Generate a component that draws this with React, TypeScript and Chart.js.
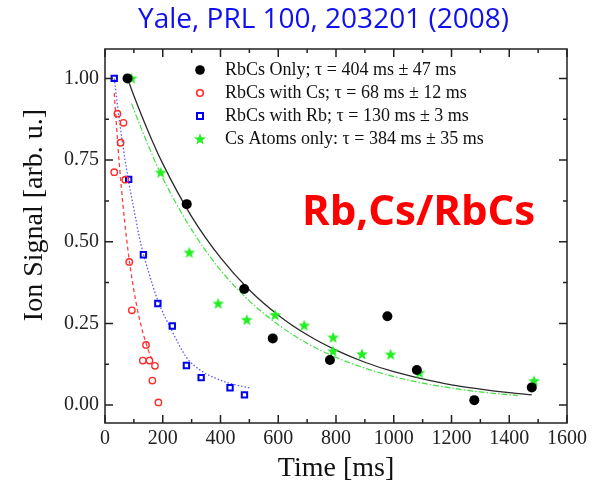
import React, { useEffect, useRef } from "react";
import { Chart, registerables } from "chart.js";

Chart.register(...registerables);

// ---------- data ----------
const rbcsOnlyTime = [78, 283, 482, 581, 779, 978, 1080, 1279, 1478];
const rbcsOnlySignal = [1.0, 0.615, 0.355, 0.204, 0.138, 0.272, 0.107, 0.015, 0.054];

const withCsTime = [32, 43, 54, 64, 70, 84, 93, 131, 142, 154, 164, 173, 185];
const withCsSignal = [0.713, 0.892, 0.803, 0.864, 0.69, 0.438, 0.29, 0.136, 0.184, 0.136, 0.075, 0.12, 0.008];

const withRbTime = [32, 82, 133, 183, 233, 282, 333, 433, 483];
const withRbSignal = [1.0, 0.691, 0.46, 0.311, 0.242, 0.121, 0.084, 0.053, 0.031];

const csAtomsTime = [92, 193, 292, 392, 491, 589, 690, 790, 790, 890, 989, 1089, 1486];
const csAtomsSignal = [1.0, 0.712, 0.467, 0.311, 0.261, 0.276, 0.244, 0.207, 0.165, 0.156, 0.155, 0.099, 0.074];

// fitted decay curves
const fitOnlyTime = [78, 100, 150, 200, 300, 400, 500, 600, 700, 800, 900, 1000, 1100, 1200, 1300, 1400, 1478];
const fitOnlySignal = [1.0, 0.947, 0.837, 0.739, 0.577, 0.451, 0.352, 0.275, 0.215, 0.168, 0.131, 0.102, 0.08, 0.062, 0.049, 0.038, 0.031];

const fitCsTime = [32, 50, 75, 100, 125, 150, 162];
const fitCsSignal = [0.955, 0.733, 0.507, 0.351, 0.243, 0.168, 0.141];

const fitRbTime = [32, 50, 75, 100, 125, 150, 183, 233, 283, 333, 383, 433, 502];
const fitRbSignal = [1.0, 0.87, 0.72, 0.6, 0.49, 0.41, 0.32, 0.225, 0.145, 0.105, 0.082, 0.066, 0.052];

const fitAtomsTime = [92, 100, 150, 200, 300, 400, 500, 600, 700, 800, 900, 1000, 1100, 1200, 1300, 1430];
const fitAtomsSignal = [0.923, 0.904, 0.794, 0.695, 0.537, 0.413, 0.319, 0.246, 0.189, 0.146, 0.113, 0.087, 0.067, 0.052, 0.04, 0.029];

const seriesLabels = [
  "RbCs Only; \u03c4 = 404 ms \u00b1 47 ms",
  "RbCs with Cs; \u03c4 = 68 ms \u00b1 12 ms",
  "RbCs with Rb; \u03c4 = 130 ms \u00b1 3 ms",
  "Cs Atoms only: \u03c4 = 384 ms \u00b1 35 ms",
];

const titleText = "Yale, PRL 100, 203201 (2008)";
const noteText = "Rb,Cs/RbCs";
const xAxisTitle = "Time [ms]";
const yAxisTitle = "Ion Signal [arb. u.]";

const xMin = 0;
const xMax = 1600;
const xStep = 200;
const yMin = -0.055;
const yMax = 1.09;
const yStep = 0.25;

const serif = "'Liberation Serif', 'Times New Roman', serif";
const sans = "'Open Sans', 'Noto Sans', sans-serif";

const toPts = (xs: number[], ys: number[]) => xs.map((x, i) => ({ x, y: ys[i] }));

function starPath(ctx: CanvasRenderingContext2D, cx: number, cy: number, R: number, r: number) {
  ctx.beginPath();
  for (let i = 0; i < 10; i++) {
    const a = -Math.PI / 2 + (i * Math.PI) / 5;
    const rad = i % 2 === 0 ? R : r;
    const px = cx + rad * Math.cos(a);
    const py = cy + rad * Math.sin(a);
    if (i === 0) ctx.moveTo(px, py);
    else ctx.lineTo(px, py);
  }
  ctx.closePath();
}

function makeCanvas(w: number, h: number, draw: (ctx: CanvasRenderingContext2D) => void) {
  const c = document.createElement("canvas");
  c.width = w;
  c.height = h;
  const ctx = c.getContext("2d")!;
  draw(ctx);
  return c;
}

const RED = "#ff2a2a";
const BLUE = "#0000ee";
const GREEN = "#22ee22";

export default function App() {
  const ref = useRef<HTMLCanvasElement | null>(null);

  useEffect(() => {
    if (!ref.current) return;

    const starImg = makeCanvas(14, 14, (ctx) => {
      starPath(ctx, 7, 7.4, 6.2, 2.6);
      ctx.fillStyle = GREEN;
      ctx.fill();
    });

    const icon = (draw: (ctx: CanvasRenderingContext2D) => void) => makeCanvas(30, 18, draw);
    const legendIcons = [
      icon((ctx) => {
        ctx.beginPath();
        ctx.arc(8, 9, 4.8, 0, Math.PI * 2);
        ctx.fillStyle = "#000";
        ctx.fill();
      }),
      icon((ctx) => {
        ctx.beginPath();
        ctx.arc(8, 9, 3.3, 0, Math.PI * 2);
        ctx.strokeStyle = RED;
        ctx.lineWidth = 1.6;
        ctx.stroke();
      }),
      icon((ctx) => {
        ctx.strokeStyle = BLUE;
        ctx.lineWidth = 2;
        ctx.strokeRect(5, 6, 6, 6);
      }),
      icon((ctx) => {
        starPath(ctx, 8, 9.4, 6.2, 2.6);
        ctx.fillStyle = GREEN;
        ctx.fill();
      }),
    ];

    const decorPlugin = {
      id: "decor",
      afterLayout(chart: any) {
        const lg = chart.legend;
        if (lg) {
          const dx = 193 - lg.left;
          const dy = 56 - lg.top;
          lg.left += dx;
          lg.right += dx;
          lg.top += dy;
          lg.bottom += dy;
        }
        const tb = chart.titleBlock;
        if (tb) {
          tb.left += 40;
          tb.right += 40;
        }
      },
      afterDraw(chart: any) {
        const { ctx, chartArea: a, scales } = chart;
        const xs = scales.x;
        const ys = scales.y;
        ctx.save();
        ctx.strokeStyle = "#222";
        ctx.lineWidth = 1.5;
        ctx.strokeRect(a.left, a.top, a.right - a.left, a.bottom - a.top);

        const majorLen = 8;
        const minorLen = 4;
        const withMinor = (scale: any, lo: number, hi: number) => {
          const vals: number[] = scale.ticks.map((t: any) => t.value);
          const out: { v: number; major: boolean }[] = [];
          vals.forEach((v, i) => {
            out.push({ v, major: true });
            if (i < vals.length - 1) out.push({ v: (v + vals[i + 1]) / 2, major: false });
          });
          if (vals.length > 1) {
            const step = vals[1] - vals[0];
            const before = vals[0] - step / 2;
            const after = vals[vals.length - 1] + step / 2;
            if (before > lo) out.push({ v: before, major: false });
            if (after < hi) out.push({ v: after, major: false });
          }
          return out;
        };
        ctx.beginPath();
        withMinor(xs, xMin, xMax).forEach(({ v, major }) => {
          const px = xs.getPixelForValue(v);
          const len = major ? majorLen : minorLen;
          ctx.moveTo(px, a.bottom);
          ctx.lineTo(px, a.bottom - len);
          ctx.moveTo(px, a.top);
          ctx.lineTo(px, a.top + len);
        });
        withMinor(ys, yMin, yMax).forEach(({ v, major }) => {
          const py = ys.getPixelForValue(v);
          const len = major ? majorLen : minorLen;
          ctx.moveTo(a.left, py);
          ctx.lineTo(a.left + len, py);
          ctx.moveTo(a.right, py);
          ctx.lineTo(a.right - len, py);
        });
        ctx.stroke();

        ctx.fillStyle = "#ff0000";
        ctx.font = `bold 42px ${sans}`;
        ctx.textAlign = "left";
        ctx.textBaseline = "alphabetic";
        ctx.fillText(noteText, 302, 225);
        ctx.restore();
      },
    };

    const chart = new Chart(ref.current, {
      type: "scatter",
      data: {
        datasets: [
          {
            label: seriesLabels[0],
            data: toPts(rbcsOnlyTime, rbcsOnlySignal),
            pointStyle: "circle",
            pointRadius: 5,
            pointBorderWidth: 0,
            pointBackgroundColor: "#000",
            pointBorderColor: "#000",
            backgroundColor: "#000",
            borderColor: "#000",
          },
          {
            label: seriesLabels[1],
            data: toPts(withCsTime, withCsSignal),
            pointStyle: "circle",
            pointRadius: 3.2,
            pointBorderWidth: 1.4,
            pointBackgroundColor: "rgba(255,255,255,0)",
            pointBorderColor: RED,
            backgroundColor: "rgba(255,255,255,0)",
            borderColor: RED,
          },
          {
            label: seriesLabels[2],
            data: toPts(withRbTime, withRbSignal),
            pointStyle: "rect",
            pointRadius: 3.8,
            pointBorderWidth: 2,
            pointBackgroundColor: "rgba(255,255,255,0)",
            pointBorderColor: BLUE,
            backgroundColor: "rgba(255,255,255,0)",
            borderColor: BLUE,
          },
          {
            label: seriesLabels[3],
            data: toPts(csAtomsTime, csAtomsSignal),
            pointStyle: starImg as any,
            pointRadius: 6,
            backgroundColor: GREEN,
            borderColor: GREEN,
          },
          {
            type: "line" as any,
            label: "fit only",
            data: toPts(fitOnlyTime, fitOnlySignal),
            borderColor: "#2a2a2a",
            borderWidth: 1.3,
            pointRadius: 0,
            fill: false,
            cubicInterpolationMode: "monotone",
          },
          {
            type: "line" as any,
            label: "fit cs",
            data: toPts(fitCsTime, fitCsSignal),
            borderColor: "#ff4040",
            borderWidth: 1.3,
            borderDash: [4, 3],
            pointRadius: 0,
            fill: false,
            cubicInterpolationMode: "monotone",
          },
          {
            type: "line" as any,
            label: "fit rb",
            data: toPts(fitRbTime, fitRbSignal),
            borderColor: "#5a5aff",
            borderWidth: 1.3,
            borderDash: [1.5, 2],
            pointRadius: 0,
            fill: false,
            cubicInterpolationMode: "monotone",
          },
          {
            type: "line" as any,
            label: "fit atoms",
            data: toPts(fitAtomsTime, fitAtomsSignal),
            borderColor: "#44e044",
            borderWidth: 1.2,
            borderDash: [6, 2, 1.5, 2],
            pointRadius: 0,
            fill: false,
            cubicInterpolationMode: "monotone",
          },
        ] as any,
      },
      options: {
        animation: false,
        responsive: false,
        devicePixelRatio: 1,
        events: [],
        layout: { padding: { left: 0, right: 36, top: 0, bottom: 0 } },
        plugins: {
          title: {
            display: true,
            text: titleText,
            color: "#1010ee",
            font: { family: sans, size: 28, weight: "normal", lineHeight: 1.2 },
            padding: { top: 3, bottom: 12.4 },
          },
          legend: {
            position: "chartArea" as any,
            align: "start",
            labels: {
              usePointStyle: true,
              color: "#111",
              font: { family: serif, size: 18 },
              padding: 5,
              generateLabels: (ch: any) => {
                const items = (Chart as any).defaults.plugins.legend.labels.generateLabels(ch);
                return items
                  .filter((it: any) => it.datasetIndex < 4)
                  .map((it: any) => ({ ...it, pointStyle: legendIcons[it.datasetIndex] }));
              },
            },
          },
          tooltip: { enabled: false },
        },
        scales: {
          x: {
            type: "linear",
            min: xMin,
            max: xMax,
            grid: { display: false, drawTicks: false },
            border: { display: false },
            ticks: {
              stepSize: xStep,
              color: "#222",
              font: { family: serif, size: 20 },
              padding: 4,
              maxRotation: 0,
              callback: (v: any) => String(v),
            },
            title: {
              display: true,
              text: xAxisTitle,
              color: "#111",
              font: { family: serif, size: 28 },
              padding: { top: 0, bottom: 3 },
            },
            afterFit: (s: any) => {
              s.height = 65;
            },
          },
          y: {
            type: "linear",
            min: yMin,
            max: yMax,
            grid: { display: false, drawTicks: false },
            border: { display: false },
            ticks: {
              stepSize: yStep,
              includeBounds: false,
              color: "#222",
              font: { family: serif, size: 20 },
              padding: 6,
              callback: (v: any) => Number(v).toFixed(2),
            },
            title: {
              display: true,
              text: "      " + yAxisTitle,
              color: "#111",
              font: { family: serif, size: 28 },
              padding: { top: 18, bottom: 0 },
            },
            afterFit: (s: any) => {
              s.width = 105;
            },
          },
        },
      } as any,
      plugins: [decorPlugin],
    });

    return () => chart.destroy();
  }, []);

  return (
    <div style={{ position: "absolute", left: 0, top: 0, width: 603, height: 488, background: "#fff" }}>
      <canvas ref={ref} width={603} height={488} style={{ display: "block", width: 603, height: 488 }} />
    </div>
  );
}
